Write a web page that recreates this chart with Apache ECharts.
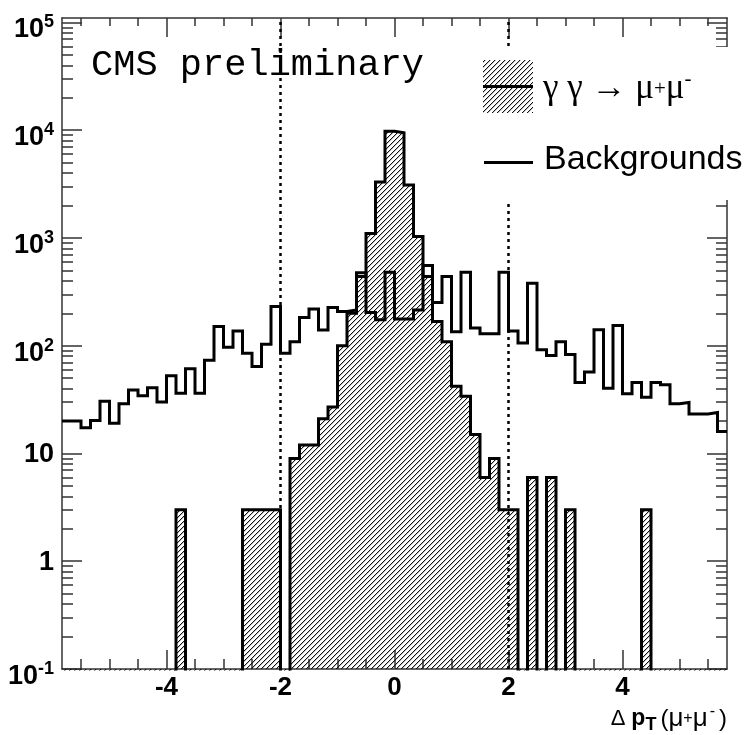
<!DOCTYPE html>
<html>
<head>
<meta charset="utf-8">
<script src="https://cdn.jsdelivr.net/npm/echarts@6/dist/echarts.min.js"></script>
<style>
html,body{margin:0;padding:0;background:#fff;}
#chart{width:744px;height:735px;}
</style>
</head>
<body>
<div id="chart"></div>
<script>
// ---- binning of the histograms (70 bins of width 1/6 between -35/6 and 35/6)
const binLow = -35 / 6;
const binWidth = 1 / 6;

// ---- gamma gamma -> mu+ mu- (hatched histogram), counts per bin
const signalCounts = [
  0, 0, 0, 0, 0, 0, 0, 0, 0, 0,
  0, 0, 3, 0, 0, 0, 0, 0, 0, 3,
  3, 3, 3, 0, 9, 12, 12, 21, 27, 100,
  200, 440, 1100, 3300, 9800, 9450, 3100, 1030, 440, 168,
  109, 42, 34, 15, 6, 9, 3, 3, 0, 6,
  0, 6, 0, 3, 0, 0, 0, 0, 0, 0,
  0, 3, 0, 0, 0, 0, 0, 0, 0, 0
];

// ---- backgrounds (open histogram), counts per bin
const backgroundCounts = [
  20, 20, 17.3, 20.2, 30.6, 19.1, 28.9, 38.9, 34.3, 40.7,
  30.1, 52.6, 36.3, 61, 36.3, 73.5, 151, 97, 137, 85,
  64, 103, 231, 85, 109, 183, 219, 140, 226, 208,
  215, 475, 203, 174, 481, 177, 177, 215, 555, 252,
  439, 135, 481, 146, 129, 129, 481, 137, 106, 380,
  92, 81, 109, 83, 45.5, 57, 141, 40.4, 154, 35.8,
  45.5, 33.3, 45.5, 43.4, 28.9, 29.7, 23.3, 23.3, 24, 16
];

// ---- axes
const xMajorTicks = [-4, -2, 0, 2, 4];
const xMinorTicks = [-5.5, -5, -4.5, -3.5, -3, -2.5, -1.5, -1, -0.5, 0.5, 1, 1.5, 2.5, 3, 3.5, 4.5, 5, 5.5];
const yMajorTicks = [0.1, 1, 10, 100, 1000, 10000, 100000];
const yMinorMultipliers = [2, 3, 4, 5, 6, 7, 8, 9];
const cutValues = [-2, 2];

const xMin = binLow, xMax = binLow + signalCounts.length * binWidth;
const yMin = 0.1, yMax = 110000;

const yMinorTicks = [];
yMajorTicks.slice(0, -1).forEach(d => yMinorMultipliers.forEach(m => yMinorTicks.push(+(d * m).toPrecision(3))));

// empty bins are drawn just below the frame (like ROOT does on a log scale)
const floorValue = yMin * 0.9;
function stepPoints(counts) {
  const pts = counts.map((c, i) => [binLow + i * binWidth, c > 0 ? c : floorValue]);
  const last = counts[counts.length - 1];
  pts.push([binLow + counts.length * binWidth, last > 0 ? last : floorValue]);
  return pts;
}

// hatch pattern ("/" lines)
const hatch = document.createElement('canvas');
hatch.width = 5; hatch.height = 5;
const hg = hatch.getContext('2d');
hg.fillStyle = '#111';
for (let i = 0; i < 5; i++) hg.fillRect(i, 4 - i, 1, 1);
hg.fillStyle = 'rgba(0,0,0,0.25)';
for (let i = 0; i < 5; i++) hg.fillRect(i, (5 - i) % 5, 1, 1);
const hatchFill = { image: hatch, repeat: 'repeat' };

const SANS = 'Liberation Sans';
const SERIF = 'Liberation Serif';
const frame = { color: '#333', width: 1.5 };
const tickStyle = { color: '#333', width: 1.5 };

function xAxisDef(position, ticks, len, opts) {
  return Object.assign({
    type: 'value', gridIndex: 0, position: position, min: xMin, max: xMax,
    axisLine: { show: false, onZero: false },
    axisTick: { show: true, inside: true, length: len, customValues: ticks, lineStyle: tickStyle },
    axisLabel: { show: false },
    splitLine: { show: false }
  }, opts || {});
}
function yAxisDef(position, ticks, len, opts) {
  return Object.assign({
    type: 'log', gridIndex: 0, position: position, min: yMin, max: yMax, logBase: 10,
    axisLine: { show: false, onZero: false },
    axisTick: { show: true, inside: true, length: len, customValues: ticks, lineStyle: tickStyle },
    axisLabel: { show: false },
    splitLine: { show: false }
  }, opts || {});
}

const chart = echarts.init(document.getElementById('chart'), null, { renderer: 'canvas' });

const option = {
  animation: false,
  backgroundColor: '#fff',
  title: {
    text: 'CMS preliminary',
    left: 86, top: 42,
    textStyle: { fontFamily: 'Liberation Mono', fontSize: 37, fontWeight: 'normal', color: '#000' }
  },
  grid: { left: 62, right: 17, top: 18, bottom: 66, containLabel: false, outerBoundsMode: 'none' },
  xAxis: [
    xAxisDef('bottom', xMajorTicks, 19, {
      axisLine: { show: true, onZero: false, lineStyle: frame },
      axisLabel: {
        show: true, customValues: xMajorTicks, margin: 6,
        formatter: v => String(v),
        fontFamily: SANS, fontWeight: 'bold', fontSize: 26, color: '#000'
      },
      name: '{d|Δ}{p|p}{t|T}{n|(}{m|μ}{u|+}{m|μ}{v|-}{n|)}',
      nameLocation: 'end', nameGap: 0,
      nameTextStyle: {
        align: 'right', verticalAlign: 'top', padding: [35, 0, 0, 0],
        rich: {
          d: { fontFamily: SANS, fontSize: 22, color: '#000', lineHeight: 30, verticalAlign: 'middle', padding: [0, 6, 0, 0] },
          p: { fontFamily: SANS, fontSize: 23, fontWeight: 'bold', color: '#000', lineHeight: 30, verticalAlign: 'middle' },
          t: { fontFamily: SANS, fontSize: 18, fontWeight: 'bold', color: '#000', lineHeight: 18, verticalAlign: 'bottom', padding: [0, 4, 0, 0] },
          n: { fontFamily: SANS, fontSize: 24, color: '#000', lineHeight: 30, verticalAlign: 'middle' },
          m: { fontFamily: SANS, fontSize: 26, color: '#000', lineHeight: 30, verticalAlign: 'middle' },
          u: { fontFamily: SANS, fontSize: 16, color: '#000', lineHeight: 16, verticalAlign: 'middle' },
          v: { fontFamily: SANS, fontSize: 16, color: '#000', lineHeight: 16, verticalAlign: 'top', padding: [0, 4, 0, 2] }
        }
      }
    }),
    xAxisDef('bottom', xMinorTicks, 10),
    xAxisDef('top', xMajorTicks, 19, { axisLine: { show: true, onZero: false, lineStyle: frame } }),
    xAxisDef('top', xMinorTicks, 8)
  ],
  yAxis: [
    yAxisDef('left', yMajorTicks, 20, {
      axisLine: { show: true, onZero: false, lineStyle: frame },
      axisLabel: {
        show: true, customValues: yMajorTicks, margin: 8,
        formatter: function (v) {
          const e = Math.round(Math.log10(v));
          if (e === 0) return '{p|1}';
          if (e === 1) return '{p|10}';
          return '{b|10}{s|' + e + '}';
        },
        rich: {
          p: { fontFamily: SANS, fontWeight: 'bold', fontSize: 27, lineHeight: 30, color: '#000', verticalAlign: 'bottom' },
          b: { fontFamily: SANS, fontWeight: 'bold', fontSize: 27, lineHeight: 42, color: '#000', verticalAlign: 'bottom' },
          s: { fontFamily: SANS, fontWeight: 'bold', fontSize: 18, lineHeight: 18, color: '#000', verticalAlign: 'middle' }
        }
      }
    }),
    yAxisDef('left', yMinorTicks, 11),
    yAxisDef('right', yMajorTicks, 20, { axisLine: { show: true, onZero: false, lineStyle: frame } }),
    yAxisDef('right', yMinorTicks, 11)
  ],
  series: [
    {
      name: 'γ γ → μ+μ-',
      type: 'line', xAxisIndex: 0, yAxisIndex: 0,
      step: 'end', symbol: 'none', showSymbol: false, silent: true,
      data: stepPoints(signalCounts),
      lineStyle: { color: '#000', width: 3, join: 'miter', cap: 'butt' },
      areaStyle: { color: hatchFill, opacity: 1, origin: 'start' },
      emphasis: { disabled: true },
      z: 2
    },
    {
      name: 'Backgrounds',
      type: 'line', xAxisIndex: 0, yAxisIndex: 0,
      step: 'end', symbol: 'none', showSymbol: false, silent: true,
      data: stepPoints(backgroundCounts),
      lineStyle: { color: '#000', width: 3, join: 'miter', cap: 'butt' },
      emphasis: { disabled: true },
      markLine: {
        silent: true, symbol: ['none', 'none'], label: { show: false },
        lineStyle: { color: '#000', width: 2.5, type: [3, 4] },
        emphasis: { disabled: true },
        data: cutValues.map(v => ({ xAxis: v }))
      },
      z: 3
    }
  ],
  graphic: [
    { type: 'rect', z: 100, shape: { x: 468, y: 47, width: 276, height: 153 }, style: { fill: '#fff' } },
    { type: 'rect', z: 101, shape: { x: 483, y: 60, width: 50, height: 53 }, style: { fill: hatchFill } },
    { type: 'line', z: 102, shape: { x1: 483, y1: 86.5, x2: 533, y2: 86.5 }, style: { stroke: '#000', lineWidth: 3 } },
    {
      type: 'text', z: 102, x: 543, y: 89,
      style: {
        text: '{g|γ γ → μ}{u|+}{g|μ}{v|-}',
        verticalAlign: 'middle', align: 'left',
        rich: {
          g: { fontFamily: SERIF, fontSize: 35, fill: '#000', lineHeight: 40, verticalAlign: 'middle' },
          u: { fontFamily: SERIF, fontSize: 21, fill: '#000', lineHeight: 21, verticalAlign: 'middle' },
          v: { fontFamily: SERIF, fontSize: 21, fill: '#000', lineHeight: 18, verticalAlign: 'top' }
        }
      }
    },
    { type: 'line', z: 102, shape: { x1: 484, y1: 162.5, x2: 533, y2: 162.5 }, style: { stroke: '#000', lineWidth: 3 } },
    {
      type: 'text', z: 102, x: 544, y: 160,
      style: { text: 'Backgrounds', fontFamily: SANS, fontSize: 34, fill: '#000', verticalAlign: 'middle', align: 'left' }
    }
  ]
};

chart.setOption(option);
</script>
</body>
</html>
